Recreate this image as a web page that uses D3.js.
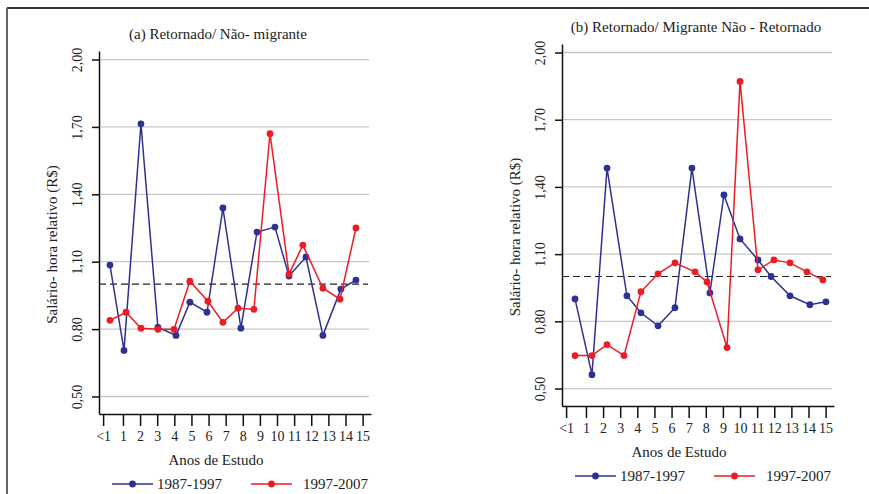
<!DOCTYPE html>
<html lang="pt">

<head>
    <meta charset="UTF-8">
    <title>Salário-hora relativo</title>
    <script src="https://cdn.jsdelivr.net/npm/d3@7/dist/d3.min.js"></script>
</head>

<body style="margin:0">
    <svg width="869" height="494" id="mainsvg"></svg>
<script>
    // eixo x: anos de estudo
    const xTickLabels = ['<1', '1', '2', '3', '4', '5', '6', '7', '8', '9', '10', '11', '12', '13', '14', '15']
    const xTickValues = [-0.16, 1, 2, 3, 4, 5, 6, 7, 8, 9, 10, 11, 12, 13, 14, 15]
    const yTicks = [0.5, 0.8, 1.1, 1.4, 1.7, 2.0]
    const refLine = 1.0
    const seriesNames = ['1987-1997', '1997-2007']

    // (a) Retornado / Não-migrante
    const anosA87 = [0.24, 1.06, 2.05, 3.04, 4.10, 4.91, 5.91, 6.84, 7.89, 8.83, 9.88, 10.70, 11.69, 12.68, 13.73, 14.61]
    const salA87 = [1.085, 0.705, 1.714, 0.808, 0.772, 0.920, 0.875, 1.339, 0.804, 1.232, 1.254, 1.036, 1.121, 0.772, 0.978, 1.018]
    const anosA97 = [0.24, 1.18, 2.05, 3.04, 3.98, 4.91, 5.96, 6.84, 7.72, 8.65, 9.59, 10.70, 11.51, 12.68, 13.68, 14.61]
    const salA97 = [0.839, 0.875, 0.804, 0.799, 0.799, 1.013, 0.924, 0.830, 0.893, 0.888, 1.670, 1.045, 1.174, 0.982, 0.933, 1.250]

    // (b) Retornado / Migrante não-retornado
    const anosB87 = [0.36, 1.35, 2.23, 3.39, 4.21, 5.21, 6.20, 7.19, 8.24, 9.06, 10.0, 11.05, 11.81, 12.92, 14.08, 15.02]
    const salB87 = [0.900, 0.562, 1.484, 0.914, 0.838, 0.780, 0.861, 1.484, 0.927, 1.364, 1.168, 1.074, 1.000, 0.914, 0.874, 0.887]
    const anosB97 = [0.36, 1.35, 2.23, 3.22, 4.21, 5.21, 6.20, 7.37, 8.07, 9.24, 10.0, 11.05, 11.98, 12.92, 13.91, 14.84]
    const salB97 = [0.647, 0.647, 0.696, 0.647, 0.932, 1.012, 1.061, 1.021, 0.976, 0.683, 1.871, 1.030, 1.074, 1.061, 1.021, 0.985]

    const colors = ['#2e3192', '#ed1c24']
    const serif = '"Liberation Serif"'

    // aplica a fonte serifada em cada texto
    function setFont(sel, size) {
        sel.style('font-family', serif).style('font-size', size + 'px').attr('fill', '#222')
    }

    const svg = d3.select('#mainsvg')

    // moldura
    svg.append('line').attr('x1', 7).attr('x2', 869).attr('y1', 8).attr('y2', 8)
        .attr('stroke', '#333').attr('stroke-width', 2)
    svg.append('line').attr('x1', 7).attr('x2', 7).attr('y1', 8).attr('y2', 494)
        .attr('stroke', '#666').attr('stroke-width', 2)

    const panels = [
        { title: '(a) Retornado/ Não- migrante', left: 99, top: 51, height: 363, titleX: 119,
          series: [[anosA87, salA87], [anosA97, salA97]] },
        { title: '(b) Retornado/ Migrante Não - Retornado', left: 562, top: 44, height: 362, titleX: 134,
          series: [[anosB87, salB87], [anosB97, salB97]] }
    ]
    const innerWidth = 272

    panels.forEach(p => {
        const g = svg.append('g').attr('transform', `translate(${p.left},${p.top})`)

        const xScale = d3.scaleLinear().domain([-0.40, 15.49]).range([0, innerWidth])
        const yScale = d3.scaleLinear().domain([0.422, 2.038]).range([p.height, 0])

        // grade
        g.selectAll('.grid').data(yTicks).enter().append('line')
            .attr('x1', 0).attr('x2', innerWidth - 2)
            .attr('y1', d => yScale(d)).attr('y2', d => yScale(d))
            .attr('stroke', '#c8c8c8').attr('stroke-width', 1.3)

        // linha de referência
        g.append('line')
            .attr('x1', 0).attr('x2', innerWidth - 3)
            .attr('y1', yScale(refLine)).attr('y2', yScale(refLine))
            .attr('stroke', '#222').attr('stroke-width', 1.1)
            .attr('stroke-dasharray', '7,4')

        // eixos
        const xAxis = d3.axisBottom(xScale)
            .tickValues(xTickValues)
            .tickFormat((d, i) => xTickLabels[i])
            .tickSize(12).tickSizeOuter(0).tickPadding(5)
        const gx = g.append('g').attr('transform', `translate(0,${p.height})`).call(xAxis)
        setFont(gx.selectAll('text'), 14)

        const yAxis = d3.axisLeft(yScale)
            .tickValues(yTicks)
            .tickFormat(d => d.toFixed(2).replace('.', ','))
            .tickSize(7).tickSizeOuter(0)
        const gy = g.append('g').call(yAxis)
        gy.selectAll('text')
            .attr('x', null).attr('dy', null).attr('y', null)
            .attr('transform', 'translate(-17,0) rotate(-90)')
            .attr('text-anchor', 'middle')
        setFont(gy.selectAll('text'), 14)

        g.selectAll('.domain, .tick line').attr('stroke', '#111').attr('stroke-width', 1.5)

        // séries
        const line = d3.line().x(d => xScale(d[0])).y(d => yScale(d[1]))
        p.series.forEach((s, k) => {
            const pts = d3.zip(s[0], s[1])
            g.append('path').datum(pts)
                .attr('d', line)
                .attr('fill', 'none')
                .attr('stroke', colors[k]).attr('stroke-width', 1.5)
            g.selectAll('.pt' + k).data(pts).enter().append('circle')
                .attr('cx', d => xScale(d[0])).attr('cy', d => yScale(d[1]))
                .attr('r', 3.4).attr('fill', colors[k])
        })

        // textos
        g.append('text').text(p.title)
            .attr('x', p.titleX).attr('y', -12)
            .attr('text-anchor', 'middle')
            .call(setFont, 15)

        g.append('text').text('Anos de Estudo')
            .attr('x', 117).attr('y', p.height + 51)
            .attr('text-anchor', 'middle')
            .call(setFont, 15)

        g.append('text').text('Salário- hora relativo (R$)')
            .attr('transform', `translate(-42,${p.height / 2 + 12}) rotate(-90)`)
            .attr('text-anchor', 'middle')
            .call(setFont, 15)

        // legenda
        const leg = g.append('g').attr('transform', `translate(0,${p.height + 70})`)
        seriesNames.forEach((name, k) => {
            const x0 = 13 + k * 139
            leg.append('line').attr('x1', x0).attr('x2', x0 + 41).attr('y1', 0).attr('y2', 0)
                .attr('stroke', colors[k]).attr('stroke-width', 1.5)
            leg.append('circle').attr('cx', x0 + 20.5).attr('cy', 0).attr('r', 3.4).attr('fill', colors[k])
            leg.append('text').text(name)
                .attr('x', x0 + 45 + k * 7).attr('y', 0).attr('dy', '0.35em')
                .call(setFont, 15)
        })
    })
</script>
</body>

</html>
